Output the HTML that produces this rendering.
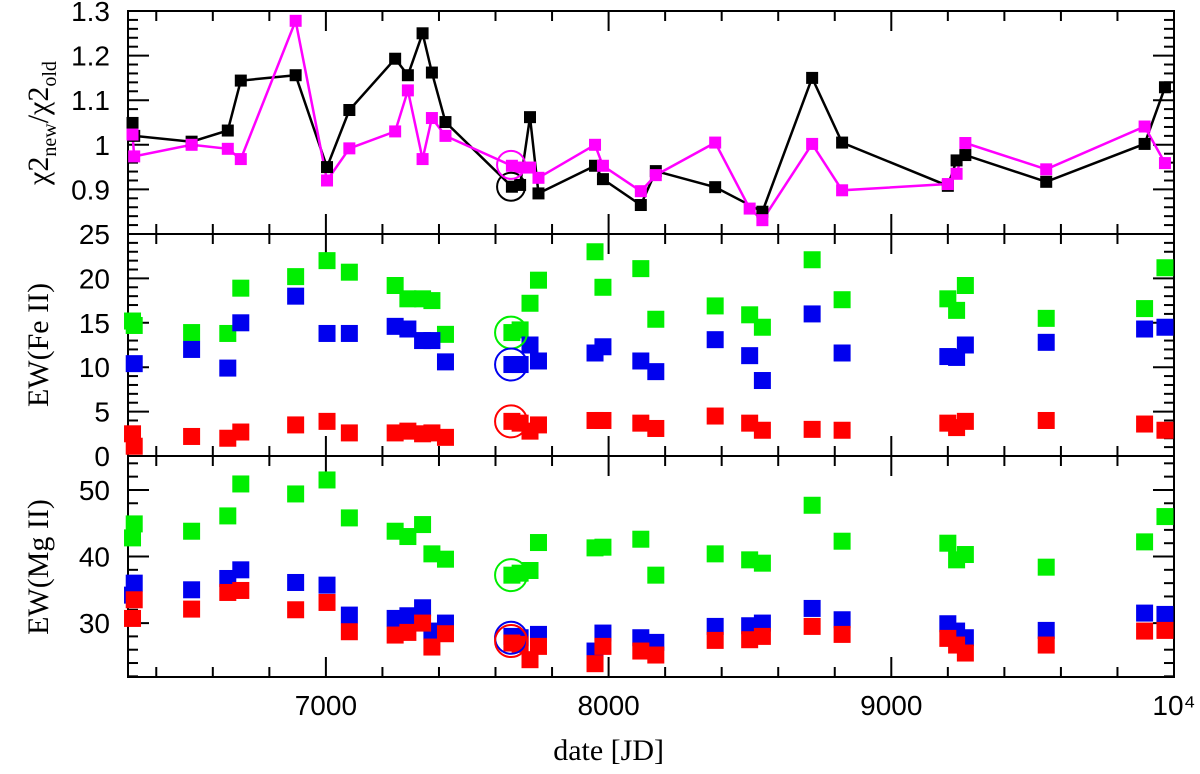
<!DOCTYPE html>
<html><head><meta charset="utf-8"><style>
html,body{margin:0;padding:0;background:#fff;}
svg{display:block;font-family:"Liberation Sans",sans-serif;}
</style></head><body>
<svg id="chart" width="1200" height="774" viewBox="0 0 1200 774" xmlns="http://www.w3.org/2000/svg"></svg>
<script>
// ---- data ----
const dates = [6316,6322,6525,6653,6699,6893,7004,7083,7245,7290,7342,7375,7423,7658,7687,7722,7752,7952,7980,8114,8167,8377,8499,8544,8720,8826,9200,9231,9262,9548,9896,9968];
const chiBlack   = [1.049,1.020,1.007,1.032,1.144,1.156,0.950,1.078,1.193,1.156,1.250,1.162,1.051,0.906,0.910,1.062,0.891,0.953,0.923,0.865,0.941,0.905,null,0.850,1.150,1.005,0.908,0.965,0.977,0.917,1.002,1.129];
const chiMagenta = [1.023,0.974,1.000,0.991,0.968,1.278,0.920,0.992,1.030,1.122,0.968,1.060,1.020,0.953,0.949,0.949,0.926,1.000,0.953,0.896,0.932,1.005,0.857,0.831,1.002,0.898,0.912,0.935,1.004,0.945,1.041,0.959];
const feGreen = [15.2,14.7,13.9,13.8,18.9,20.2,22.0,20.7,19.2,17.7,17.7,17.5,13.7,13.9,14.2,17.2,19.8,23.0,19.0,21.1,15.4,16.9,15.9,14.5,22.1,17.6,17.7,16.4,19.2,15.5,16.6,21.2];
const feBlue  = [null,10.4,12.0,9.9,15.0,18.0,13.8,13.8,14.6,14.3,13.0,13.0,10.6,10.3,10.3,12.5,10.7,11.6,12.3,10.7,9.5,13.1,11.3,8.5,16.0,11.6,11.2,11.1,12.5,12.8,14.3,14.5];
const feRed   = [2.5,1.1,2.2,2.0,2.7,3.5,3.9,2.6,2.6,2.8,2.5,2.6,2.1,3.9,3.7,2.8,3.5,4.0,4.0,3.7,3.1,4.5,3.7,2.9,3.0,2.9,3.7,3.2,3.9,4.0,3.6,2.9];
const mgGreen = [42.8,44.9,43.8,46.1,50.9,49.4,51.5,45.8,43.8,43.0,44.8,40.4,39.6,37.2,37.5,37.9,42.1,41.3,41.4,42.6,37.2,40.4,39.5,39.0,47.7,42.3,42.0,39.5,40.3,38.4,42.2,46.0];
const mgBlue  = [34.2,36.0,35.0,36.7,38.0,36.1,35.7,31.2,30.7,31.1,32.3,28.8,30.0,28.0,27.8,null,28.3,25.8,28.5,27.8,27.1,29.5,29.6,30.0,32.2,30.5,29.9,28.8,27.8,28.9,31.5,31.3];
const mgRed   = [30.7,33.5,32.1,34.6,34.9,32.0,33.1,28.7,28.2,28.6,30.0,26.4,28.4,27.0,26.8,24.5,26.5,23.9,26.5,25.8,25.2,27.4,27.5,28.0,29.5,28.3,27.7,26.7,25.5,26.7,28.8,28.9];
const xTicks = [7000,8000,9000,10000];
const xTickLabels = ["7000","8000","9000","10⁴"];
const chiTicks = [1.3,1.2,1.1,1.0,0.9];
const chiTickLabels = ["1.3","1.2","1.1","1","0.9"];
const feTicks = [25,20,15,10,5,0];
const mgTicks = [50,40,30];
const circleDate = 7655;
const circleChi = [0.906,0.955];
const circleFe = [13.9,10.3,3.9];
const circleMg = [37.2,27.8,27.3];

// ---- layout ----
const NS="http://www.w3.org/2000/svg";
const svg=document.getElementById('chart');
const L=128,R=1174;
const X0=6300,X1=10000;
const x=d=>L+(d-X0)/(X1-X0)*(R-L);
const panels=[{top:11,bot:234,min:0.8,max:1.3,maj:0.1,mnr:0.02},
              {top:234,bot:456,min:0,max:25,maj:5,mnr:1},
              {top:456,bot:677,min:21.9,max:55.1,maj:10,mnr:2}];
const yf=p=>v=>p.bot-(v-p.min)/(p.max-p.min)*(p.bot-p.top);
const yChi=yf(panels[0]), yFe=yf(panels[1]), yMg=yf(panels[2]);
function mk(tag,attrs,parent){const e=document.createElementNS(NS,tag);for(const k in attrs)e.setAttribute(k,attrs[k]);(parent||svg).appendChild(e);return e;}

// frames + ticks
panels.forEach((p,i)=>{
  const g=mk('g',{});
  
  
  mk('rect',{x:L,y:p.top,width:R-L,height:p.bot-p.top,fill:'none',stroke:'#000','stroke-width':2},g);
  for(let d=6400;d<=10000;d+=200){
    const major=d%1000===0, len=major?20:10, xx=x(d);
    mk('line',{x1:xx,x2:xx,y1:p.bot,y2:p.bot-len,stroke:'#000','stroke-width':2},g);
    mk('line',{x1:xx,x2:xx,y1:p.top,y2:p.top+len,stroke:'#000','stroke-width':2},g);
  }
  const yy=yf(p);
  const n=Math.round((p.max-p.min)/p.mnr);
  const start=Math.ceil(p.min/p.mnr-1e-6)*p.mnr;
  for(let v=start; v<=p.max+1e-9; v+=p.mnr){
    const r=v/p.maj, major=Math.abs(r-Math.round(r))<1e-6, len=major?21:10;
    const yv=yy(v);
    mk('line',{x1:L,x2:L+len,y1:yv,y2:yv,stroke:'#000','stroke-width':2},g);
    mk('line',{x1:R,x2:R-len,y1:yv,y2:yv,stroke:'#000','stroke-width':2},g);
  }
});

function label(txt,xx,yy,anchor,size,name){
  const t=mk('text',{x:xx,y:yy,'text-anchor':anchor,'font-size':size,fill:'#000'});
  t.textContent=txt;
  
  
  return t;
}
chiTicks.forEach((v,i)=>label(chiTickLabels[i],110,yChi(v)+10,'end',28,'y-tick-chi'));
feTicks.forEach(v=>label(String(v),110,yFe(v)+10,'end',28,'y-tick-fe'));
mgTicks.forEach(v=>label(String(v),110,yMg(v)+10,'end',28,'y-tick-mg'));
xTicks.forEach((v,i)=>label(xTickLabels[i],x(v),715,'middle',28,'x-tick-label'));
label('date [JD]',x(8000),760,'middle',30,'x-axis-title').setAttribute('font-family','"Liberation Serif",serif');

// y titles
const yt1=mk('text',{transform:'translate(48,123) rotate(-90)','text-anchor':'middle','font-size':30,'font-family':'"Liberation Serif",serif'});


yt1.innerHTML='χ2<tspan font-size="20" dy="8">new</tspan><tspan dy="-8">/χ2</tspan><tspan font-size="20" dy="8">old</tspan>';
const yt2=label('EW(Fe II)',0,0,'middle',30,'y-axis-title-fe');
yt2.setAttribute('transform','translate(48,345) rotate(-90)');yt2.setAttribute('font-family','"Liberation Serif",serif');
const yt3=label('EW(Mg II)',0,0,'middle',30,'y-axis-title-mg');
yt3.setAttribute('transform','translate(48,567) rotate(-90)');yt3.setAttribute('font-family','"Liberation Serif",serif');

// series
function line(vals,yfn,color,name){
  let d='';let first=true;
  vals.forEach((v,i)=>{if(v==null)return;d+=(first?'M':'L')+x(dates[i]).toFixed(1)+','+yfn(v).toFixed(1);first=false;});
  const p=mk('path',{d:d,fill:'none',stroke:color,'stroke-width':2.5});
  
  
}
function squares(vals,yfn,color,size,name){
  vals.forEach((v,i)=>{if(v==null)return;
    const r=mk('rect',{x:x(dates[i])-size/2,y:yfn(v)-size/2,width:size,height:size,fill:color});
    
    
  });
}
line(chiBlack,yChi,'#000','chi-black-line');
line(chiMagenta,yChi,'#ff00ff','chi-magenta-line');
squares(chiBlack,yChi,'#000',12,'chi-black-point');
squares(chiMagenta,yChi,'#ff00ff',12,'chi-magenta-point');
squares(feGreen,yFe,'#00ee00',17,'fe-green-point');
squares(feBlue,yFe,'#0000ee',17,'fe-blue-point');
squares(feRed,yFe,'#ff0000',17,'fe-red-point');
squares(mgGreen,yMg,'#00ee00',17,'mg-green-point');
squares(mgBlue,yMg,'#0000ee',17,'mg-blue-point');
squares(mgRed,yMg,'#ff0000',17,'mg-red-point');

function circ(v,yfn,color,r,name){
  const c=mk('circle',{cx:x(circleDate),cy:yfn(v),r:r,fill:'none',stroke:color,'stroke-width':2});
  
  
}
circ(circleChi[0],yChi,'#000',14,'highlight-circle-black');
circ(circleChi[1],yChi,'#ff00ff',14,'highlight-circle-magenta');
circ(circleFe[0],yFe,'#00ee00',16,'highlight-circle-fe-green');
circ(circleFe[1],yFe,'#0000ee',16,'highlight-circle-fe-blue');
circ(circleFe[2],yFe,'#ff0000',16,'highlight-circle-fe-red');
circ(circleMg[0],yMg,'#00ee00',16,'highlight-circle-mg-green');
circ(circleMg[1],yMg,'#0000ee',16,'highlight-circle-mg-blue');
circ(circleMg[2],yMg,'#ff0000',16,'highlight-circle-mg-red');
</script>
</body></html>
